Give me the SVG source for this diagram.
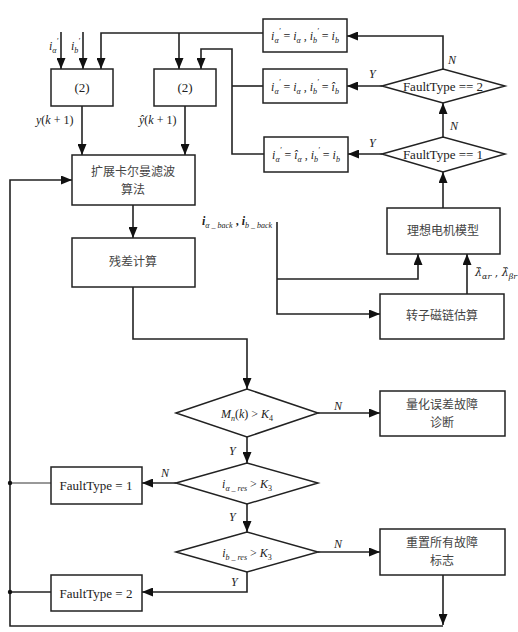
<svg xmlns="http://www.w3.org/2000/svg" width="518" height="632" viewBox="0 0 518 632">
<defs>
<marker id="ah" markerUnits="userSpaceOnUse" markerWidth="11" markerHeight="9" refX="11" refY="4.5" orient="auto">
<path d="M0,0 L11,4.5 L0,9 z" fill="#111"/>
</marker>
<style>
.box{fill:#fff;stroke:#222;stroke-width:1.5}
.ln{fill:none;stroke:#222;stroke-width:1.6}
.ar{fill:none;stroke:#222;stroke-width:1.6;marker-end:url(#ah)}
.thin{fill:none;stroke:#333;stroke-width:1}
.cn{font-family:"Noto Sans CJK SC","Liberation Serif",serif;font-size:12px;fill:#444;text-anchor:middle}
.m{font-family:"Liberation Serif",serif;font-size:13px;fill:#222;text-anchor:middle}
.mi{font-family:"Liberation Serif",serif;font-size:12px;font-style:italic;fill:#222}
.dj{font-family:"DejaVu Serif",serif;font-size:11px;font-style:italic;fill:#222}
.s{font-size:8px}
</style>
</defs>
<rect width="518" height="632" fill="#fff"/>

<g id="connectors">
<path class="ar" d="M61,32 V69"/>
<path class="ar" d="M83,32 V69"/>
<path class="ar" d="M263,33 H101 V69"/>
<path class="ar" d="M179,33 V69"/>
<path class="ln" d="M263,86 H232"/>
<path class="ar" d="M264,154 H232 V49 H201 V69"/>
<path class="ar" d="M82,106 V155"/>
<path class="ar" d="M185,106 V155"/>
<path class="ar" d="M443,69 V36 H347"/>
<path class="ar" d="M382,86 H347"/>
<path class="ar" d="M443,137 V103"/>
<path class="ar" d="M382,154 H348"/>
<path class="ar" d="M443,208 V172"/>
<path class="ar" d="M277,222 V314 H380"/>
<path class="ar" d="M277,279 H418 V254"/>
<path class="ar" d="M467,294 V254"/>
<path class="ar" d="M133,205 V238"/>
<path class="ar" d="M133,287 V339 H247 V389"/>
<path class="ar" d="M318,413 H380"/>
<path class="ar" d="M247,437 V463"/>
<path class="ar" d="M176,483 H142"/>
<path class="ar" d="M247,504 V532"/>
<path class="ar" d="M318,552 H380"/>
<path class="ar" d="M247,572 V592 H142"/>
<path class="ar" d="M443,575 V625"/>
<path class="ar" d="M443,626 H10 V180 H72"/>
<path class="thin" d="M51,483 H10"/>
<path class="ln" d="M51,592 H10"/>
<circle cx="10" cy="483" r="2.2" fill="#111"/>
<circle cx="10" cy="592" r="2.2" fill="#111"/>
</g>

<g id="labels">
<text class="mi" x="49" y="50">i<tspan class="s" dy="3">α</tspan><tspan class="s" dy="-9">′</tspan></text>
<text class="mi" x="71" y="50">i<tspan class="s" dy="3">b</tspan><tspan class="s" dy="-9">′</tspan></text>
<text class="mi" x="36" y="124">y<tspan font-style="normal">(</tspan>k<tspan font-style="normal"> + 1)</tspan></text>
<text class="mi" x="139" y="124">ŷ<tspan font-style="normal">(</tspan>k<tspan font-style="normal"> + 1)</tspan></text>
<text class="mi" x="202" y="225" font-weight="bold">i<tspan class="s" dy="3" font-weight="normal">α _ back</tspan><tspan dy="-3" font-style="normal"> , </tspan>i<tspan class="s" dy="3" font-weight="normal">b _ back</tspan></text>
<text class="dj" x="475" y="276">λ̂<tspan class="s" dy="3">αr</tspan><tspan dy="-3" font-style="normal"> , </tspan>λ̂<tspan class="s" dy="3">βr</tspan></text>
<text class="mi" x="448" y="64">N</text>
<text class="mi" x="369" y="78">Y</text>
<text class="mi" x="450" y="130">N</text>
<text class="mi" x="369" y="147">Y</text>
<text class="mi" x="334" y="410">N</text>
<text class="mi" x="229" y="455">Y</text>
<text class="mi" x="161" y="477">N</text>
<text class="mi" x="229" y="521">Y</text>
<text class="mi" x="334" y="548">N</text>
<text class="mi" x="231" y="586">Y</text>
</g>

<g id="calc1"><rect class="box" x="51" y="69" width="62" height="37"/><text class="m" x="82" y="92">(2)</text></g>
<g id="calc2"><rect class="box" x="154" y="69" width="62" height="37"/><text class="m" x="185" y="92">(2)</text></g>

<g id="assign1"><rect class="box" x="263" y="19" width="84" height="33"/>
<text class="mi" x="305" y="40" text-anchor="middle">i<tspan class="s" dy="3">α</tspan><tspan class="s" dy="-9">′</tspan><tspan dy="6" font-style="normal"> = </tspan>i<tspan class="s" dy="3">α</tspan><tspan dy="-3" font-style="normal"> , </tspan>i<tspan class="s" dy="3">b</tspan><tspan class="s" dy="-9">′</tspan><tspan dy="6" font-style="normal"> = </tspan>i<tspan class="s" dy="3">b</tspan></text></g>
<g id="assign2"><rect class="box" x="263" y="69" width="84" height="34"/>
<text class="mi" x="305" y="91" text-anchor="middle">i<tspan class="s" dy="3">α</tspan><tspan class="s" dy="-9">′</tspan><tspan dy="6" font-style="normal"> = </tspan>i<tspan class="s" dy="3">α</tspan><tspan dy="-3" font-style="normal"> , </tspan>i<tspan class="s" dy="3">b</tspan><tspan class="s" dy="-9">′</tspan><tspan dy="6" font-style="normal"> = </tspan>î<tspan class="s" dy="3">b</tspan></text></g>
<g id="assign3"><rect class="box" x="264" y="137" width="84" height="35"/>
<text class="mi" x="306" y="159" text-anchor="middle">i<tspan class="s" dy="3">α</tspan><tspan class="s" dy="-9">′</tspan><tspan dy="6" font-style="normal"> = </tspan>î<tspan class="s" dy="3">α</tspan><tspan dy="-3" font-style="normal"> , </tspan>i<tspan class="s" dy="3">b</tspan><tspan class="s" dy="-9">′</tspan><tspan dy="6" font-style="normal"> = </tspan>i<tspan class="s" dy="3">b</tspan></text></g>

<g id="ft2"><polygon class="box" points="382,86 443,69 505,86 443,103"/><text class="m" x="443" y="91">FaultType == 2</text></g>
<g id="ft1"><polygon class="box" points="382,154 443,137 505,154 443,172"/><text class="m" x="443" y="159">FaultType == 1</text></g>

<g id="motor"><rect class="box" x="387" y="208" width="113" height="46"/><text class="cn" x="443" y="235">理想电机模型</text></g>
<g id="flux"><rect class="box" x="380" y="294" width="124" height="45"/><text class="cn" x="442" y="320">转子磁链估算</text></g>

<g id="ekf"><rect class="box" x="72" y="155" width="123" height="50"/><text class="cn" x="133" y="176">扩展卡尔曼滤波</text><text class="cn" x="133" y="194">算法</text></g>
<g id="resid"><rect class="box" x="72" y="238" width="123" height="49"/><text class="cn" x="133" y="266">残差计算</text></g>

<g id="dmn"><polygon class="box" points="176,413 247,389 318,413 247,437"/>
<text class="mi" x="247" y="418" text-anchor="middle">M<tspan class="s" dy="3">n</tspan><tspan dy="-3" font-style="normal">(</tspan>k<tspan font-style="normal">) &gt; </tspan>K<tspan class="s" dy="3" font-style="normal">4</tspan></text></g>
<g id="quant"><rect class="box" x="380" y="391" width="125" height="45"/><text class="cn" x="442" y="409">量化误差故障</text><text class="cn" x="442" y="427">诊断</text></g>

<g id="dia"><polygon class="box" points="176,483 247,463 318,483 247,504"/>
<text class="mi" x="247" y="488" text-anchor="middle">i<tspan class="s" dy="3">α _ res</tspan><tspan dy="-3" font-style="normal"> &gt; </tspan>K<tspan class="s" dy="3" font-style="normal">3</tspan></text></g>
<g id="fault1"><rect class="box" x="51" y="467" width="91" height="37"/><text class="m" x="96" y="490">FaultType = 1</text></g>

<g id="dib"><polygon class="box" points="176,552 247,532 318,552 247,572"/>
<text class="mi" x="247" y="557" text-anchor="middle">i<tspan class="s" dy="3">b _ res</tspan><tspan dy="-3" font-style="normal"> &gt; </tspan>K<tspan class="s" dy="3" font-style="normal">3</tspan></text></g>
<g id="reset"><rect class="box" x="380" y="529" width="125" height="46"/><text class="cn" x="442" y="547">重置所有故障</text><text class="cn" x="442" y="565">标志</text></g>
<g id="fault2"><rect class="box" x="51" y="575" width="91" height="36"/><text class="m" x="96" y="598">FaultType = 2</text></g>
</svg>
